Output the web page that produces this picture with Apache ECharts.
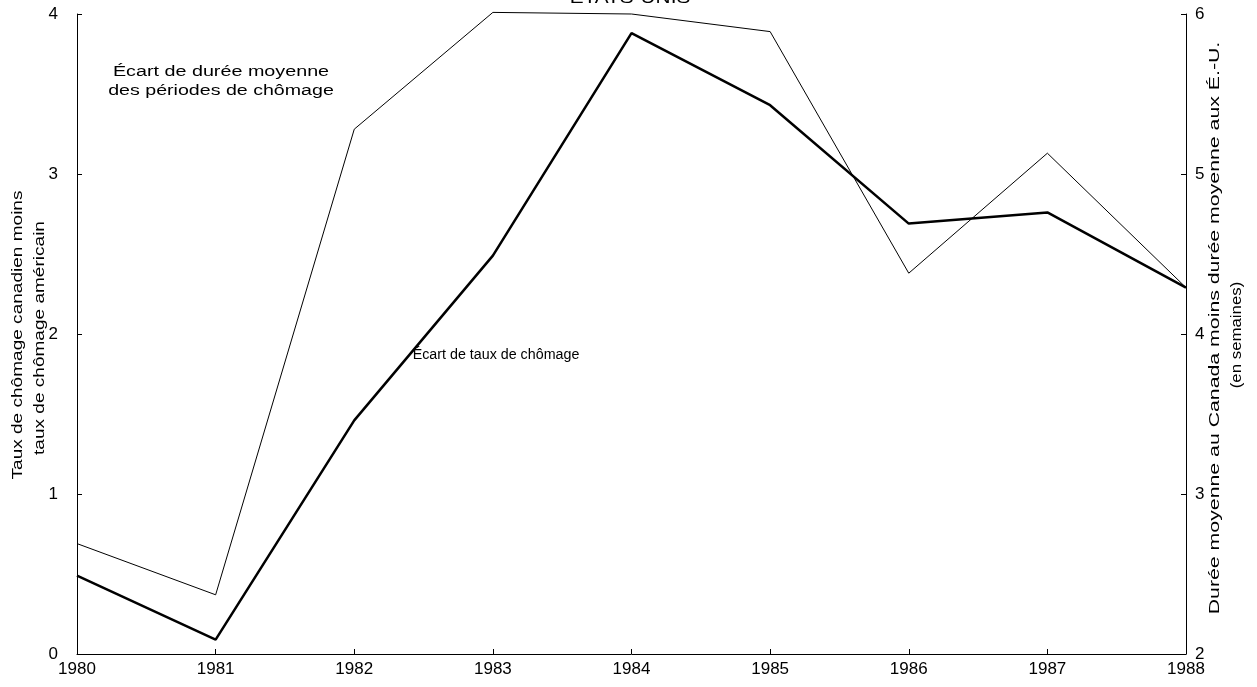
<!DOCTYPE html>
<html>
<head>
<meta charset="utf-8">
<script src="https://cdn.jsdelivr.net/npm/echarts@6/dist/echarts.min.js"></script>
<style>
html,body{margin:0;padding:0;background:#fff;}
#c{width:1257px;height:687px;}
</style>
</head>
<body>
<div id="c"></div>
<script>
var years = ['1980','1981','1982','1983','1984','1985','1986','1987','1988'];
var tauxEcart = [0.49, 0.09, 1.46, 2.49, 3.88, 3.43, 2.69, 2.76, 2.29];
var dureeEcart = [2.69, 2.37, 5.28, 6.01, 6.00, 5.89, 4.38, 5.13, 4.29];
var leftTicks = [0, 1, 2, 3, 4];
var rightTicks = [2, 3, 4, 5, 6];

var chart = echarts.init(document.getElementById('c'));
var font = 'Liberation Sans, Arial, sans-serif';
var axisCommon = {
  axisLine: {show: true, lineStyle: {color: '#000', width: 1}},
  axisTick: {show: true, inside: true, length: 5, lineStyle: {color: '#000'}},
  splitLine: {show: false}
};
function txt(x, y, s, size, sx, rot) {
  return {type: 'text', x: x, y: y, rotation: rot || 0, scaleX: sx, scaleY: 1,
    style: {text: s, fill: '#000', font: size + 'px ' + font, align: 'center', verticalAlign: 'middle'}};
}
chart.setOption({
  animation: false,
  backgroundColor: '#fff',
  grid: {left: 77, right: 71, top: 14, bottom: 33},
  xAxis: Object.assign({}, axisCommon, {
    type: 'category', data: years, boundaryGap: false,
    axisLabel: {color: '#000', fontSize: 17, fontFamily: font, margin: 7},
    axisTick: {show: true, inside: true, length: 5, alignWithLabel: true, lineStyle: {color: '#000'}}
  }),
  yAxis: [
    Object.assign({}, axisCommon, {
      type: 'value', position: 'left', min: leftTicks[0], max: leftTicks[leftTicks.length-1], interval: 1,
      axisLabel: {color: '#000', fontSize: 17, fontFamily: font, margin: 19}
    }),
    Object.assign({}, axisCommon, {
      type: 'value', position: 'right', min: rightTicks[0], max: rightTicks[rightTicks.length-1], interval: 1,
      axisLabel: {color: '#000', fontSize: 17, fontFamily: font, margin: 9}
    })
  ],
  series: [
    {type: 'line', name: 'taux', data: tauxEcart, yAxisIndex: 0, showSymbol: false, symbol: 'none', clip: false,
     lineStyle: {color: '#000', width: 2.5}},
    {type: 'line', name: 'duree', data: dureeEcart, yAxisIndex: 1, showSymbol: false, symbol: 'none', clip: false,
     lineStyle: {color: '#000', width: 1}}
  ],
  graphic: [
    {type: 'text', x: 630, y: 7, scaleX: 1.3, style: {text: 'ÉTATS-UNIS', fill: '#000', font: '16px ' + font, align: 'center', verticalAlign: 'bottom'}},
    txt(221, 72, 'Écart de durée moyenne', 14, 1.41),
    txt(221, 91, 'des périodes de chômage', 14, 1.40),
    txt(496, 355, 'Écart de taux de chômage', 14, 1.02),
    txt(18, 335, 'Taux de chômage canadien moins', 14, 1.36, Math.PI/2),
    txt(40, 338, 'taux de chômage américain', 14, 1.36, Math.PI/2),
    txt(1215, 328, 'Durée moyenne au Canada moins durée moyenne aux É.-U.', 14, 1.52, Math.PI/2),
    txt(1237, 335, '(en semaines)', 14, 1.2, Math.PI/2)
  ]
});
</script>
</body>
</html>
